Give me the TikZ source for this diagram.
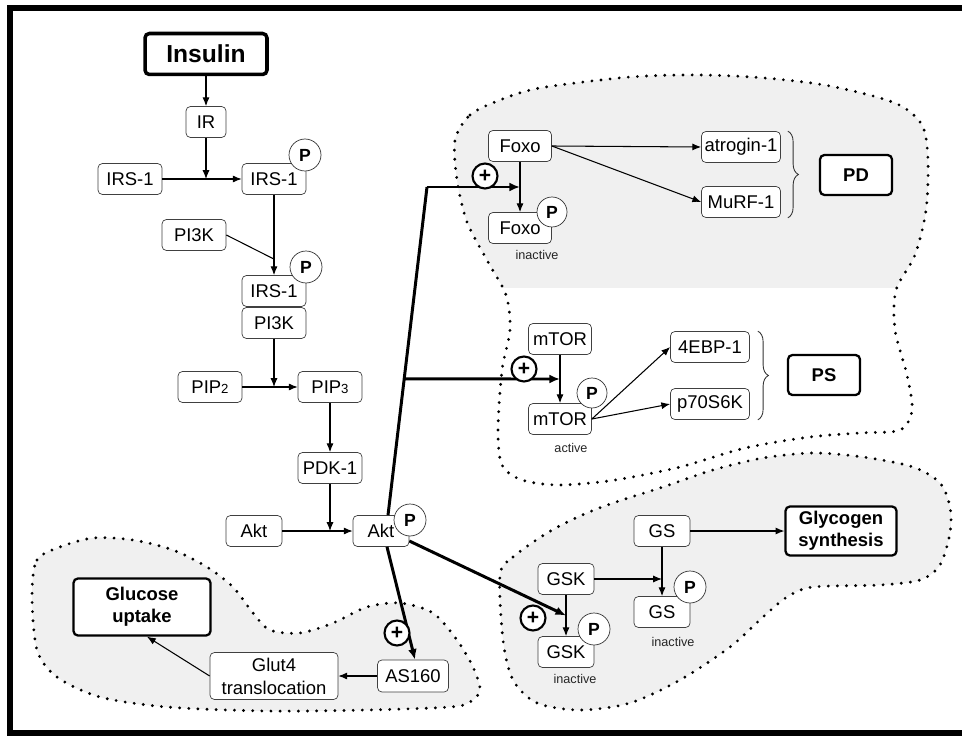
\documentclass[tikz,border=0pt]{standalone}
\usepackage{fontspec}
\setmainfont{Liberation Sans}
\usetikzlibrary{arrows.meta, decorations.pathreplacing, calc}
\tikzset{%
    box/.style={draw=black!75, rounded corners=2.5pt, fill=white, inner sep=0pt,
        minimum height=0.62cm, font=\fontsize{10.5}{12}\selectfont}
}

\begin{document}
\begin{tikzpicture}[x=0.02cm, y=-0.02cm,
        res/.style={box, draw=black, line width=1.3pt, align=center,
            font=\fontsize{10.5}{12.5}\selectfont\bfseries},
        pho/.style={circle, draw=black!80, fill=white, minimum size=0.64cm, inner sep=0pt,
            font=\fontsize{10}{12}\selectfont\bfseries},
        act/.style={circle, draw, line width=1.2pt, fill=white, minimum size=0.5cm, inner sep=0pt,
            font=\fontsize{12}{12}\selectfont\bfseries},
        lbl/.style={font=\fontsize{7.2}{8}\selectfont, text=black!85},
        edge/.style={line width=0.6pt, -{Latex[length=5pt,width=4pt]}},
        link/.style={line width=0.6pt},
        bus/.style={line width=1.7pt},
        bold/.style={line width=1.7pt, -{Latex[length=6pt,width=5pt]}},
        zone/.style={line width=1.8pt, dash pattern=on 0pt off 5.2pt, line cap=round},
        zonefill/.style={fill=black!6},
        brace/.style={decorate, decoration={brace, amplitude=6pt}, line width=0.5pt, draw=black!80}
        ]
        \useasboundingbox (0,0) rectangle (962,736);
        \clip (0,0) rectangle (962,736);
        % frame, open on the right
        \draw[line width=3.4pt] (1000,8) -- (10,8) -- (10,733) -- (1000,733);

        % shaded zones
        \begin{scope}
            \clip (0,0) rectangle (962,287);
            \fill[zonefill] plot[smooth cycle] coordinates {(455,140) (470,115) (500,100) (540,88)
                (630,77) (700,75) (765,78) (830,86) (895,103) (922,125) (928,160) (926,210)
                (915,255) (896,290) (895,330) (907,375) (912,410) (900,430) (860,433) (810,437)
                (745,448) (680,467) (615,480) (560,485) (522,480) (502,465) (498,430) (502,370)
                (510,330) (506,295) (488,262) (467,222) (457,180)};
        \end{scope}
        \draw[zone] plot[smooth cycle] coordinates {(455,140) (470,115) (500,100) (540,88)
            (630,77) (700,75) (765,78) (830,86) (895,103) (922,125) (928,160) (926,210)
            (915,255) (896,290) (895,330) (907,375) (912,410) (900,430) (860,433) (810,437)
            (745,448) (680,467) (615,480) (560,485) (522,480) (502,465) (498,430) (502,370)
            (510,330) (506,295) (488,262) (467,222) (457,180)};
        \draw[zone, zonefill] plot[smooth cycle] coordinates {(500,575) (513,557) (547,533)
            (580,516) (613,503) (663,487) (713,470) (763,458) (813,453) (863,457) (913,467)
            (940,483) (950,507) (950,533) (940,565) (920,580) (880,585) (813,587) (787,597)
            (763,617) (730,647) (680,680) (630,703) (580,710) (537,703) (513,680) (503,640)};
        \draw[zone, zonefill] plot[smooth cycle] coordinates {(32,595) (37,560) (60,547)
            (93,538) (133,540) (173,550) (207,567) (233,587) (253,613) (270,630) (300,633)
            (333,623) (367,607) (400,603) (433,613) (457,640) (473,667) (480,690) (470,702)
            (450,707) (367,710) (267,711) (167,707) (100,697) (57,677) (37,650)};

        % insulin cascade
        \node[res, line width=2pt, minimum width=2.44cm, minimum height=0.82cm,
            font=\fontsize{14}{16}\selectfont\bfseries] (ins) at (206,54) {Insulin};
        \node[box, minimum width=0.8cm] (ir) at (206,122) {IR};
        \node[box, minimum width=1.28cm] (irsa) at (130,179) {IRS-1};
        \node[box, minimum width=1.28cm] (irsb) at (274,179) {IRS-1};
        \node[box, minimum width=1.28cm] (pika) at (194,235) {PI3K};
        \node[box, minimum width=1.28cm] (irsc) at (274,291) {IRS-1};
        \node[box, minimum width=1.28cm] (pikb) at (274,323) {PI3K};
        \node[box, minimum width=1.28cm] (pipa) at (210,387) {PIP{\fontsize{7.5}{8}\selectfont 2}};
        \node[box, minimum width=1.28cm] (pipb) at (330,387) {PIP{\fontsize{7.5}{8}\selectfont 3}};
        \node[box, minimum width=1.28cm] (pdk) at (330,468) {PDK-1};
        \node[box, minimum width=1.12cm] (akta) at (254,531) {Akt};
        \node[box, minimum width=1.12cm] (aktp) at (381,531) {Akt};

        % glucose uptake
        \node[res, minimum width=2.74cm, minimum height=1.14cm] (gluc) at (142,607) {Glucose\\uptake};
        \node[box, minimum width=2.56cm, minimum height=0.94cm, align=center,
            font=\fontsize{10.5}{13}\selectfont] (glut) at (274,676) {Glut4\\translocation};
        \node[box, minimum width=1.42cm, minimum height=0.64cm] (as160) at (413,676) {AS160};

        % protein degradation
        \node[box, minimum width=1.26cm] (foxoa) at (520,146) {Foxo};
        \node[box, minimum width=1.26cm] (foxob) at (520,228) {Foxo};
        \node[box, minimum width=1.58cm] (atro) at (741,147) {atrogin-1};
        \node[box, minimum width=1.58cm] (murf) at (741,202) {MuRF-1};
        \node[res, minimum width=1.44cm, minimum height=0.8cm] (pd) at (856,175) {PD};

        % protein synthesis
        \node[box, minimum width=1.26cm] (mtora) at (560,339) {mTOR};
        \node[box, minimum width=1.26cm] (mtorb) at (560,419) {mTOR};
        \node[box, minimum width=1.58cm] (ebp) at (710,347) {4EBP-1};
        \node[box, minimum width=1.58cm] (p70) at (710,404) {p70S6K};
        \node[res, minimum width=1.44cm, minimum height=0.8cm] (ps) at (824,375) {PS};

        % glycogen synthesis
        \node[box, minimum width=1.12cm] (gsa) at (662,531) {GS};
        \node[box, minimum width=1.12cm] (gsb) at (662,612) {GS};
        \node[box, minimum width=1.12cm] (gska) at (566,579) {GSK};
        \node[box, minimum width=1.12cm] (gskb) at (566,652) {GSK};
        \node[res, minimum width=2.22cm, minimum height=0.98cm] (glyc) at (841,531) {Glycogen\\synthesis};

        % phosphates
        \node[pho] (p1) at (305,155) {P};
        \node[pho] (p2) at (306,267) {P};
        \node[pho] (p3) at (410,520) {P};
        \node[pho, minimum size=0.6cm] (p4) at (552,212) {P};
        \node[pho, minimum size=0.6cm] (p5) at (592,393) {P};
        \node[pho] (p6) at (690,587) {P};
        \node[pho] (p7) at (594,629) {P};

        \node[lbl] (lfoxo) at (537,255) {inactive};
        \node[lbl] (lmtor) at (571,448) {active};
        \node[lbl] (lgs) at (673,642) {inactive};
        \node[lbl] (lgsk) at (575,679) {inactive};

        % cascade edges
        \draw[edge] (ins) -- (ir);
        \draw[edge] (irsa) -- (irsb);
        \draw[edge] (ir) -- (ir |- irsa);
        \draw[edge] (irsb) -- (irsc);
        \draw[link] (pika.east) -- ($(irsb.south)!0.8!(irsc.north)$);
        \draw[edge] (pipa) -- (pipb);
        \draw[edge] (pikb) -- (pikb |- pipa);
        \draw[edge] (pipb) -- (pdk);
        \draw[edge] (akta) -- (aktp);
        \draw[edge] (pdk) -- (pdk |- akta);

        % targets
        \draw[edge] (foxoa) -- (foxob);
        \draw[edge] (foxoa.east) -- (atro.west);
        \draw[edge] (foxoa.east) -- (murf.west);
        \draw[brace] ([xshift=0.14cm]atro.north east) -- ([xshift=0.14cm]murf.south east);
        \draw[edge] (mtora) -- (mtorb);
        \draw[edge] (mtorb.east) -- (ebp.west);
        \draw[edge] (mtorb.east) -- (p70.west);
        \draw[brace] ([xshift=0.16cm]ebp.north east) -- ([xshift=0.16cm]p70.south east);
        \draw[edge] (gsa) -- (gsb);
        \draw[edge] (gsa) -- (glyc);
        \draw[edge] (gska) -- (gskb);
        \draw[edge] (gska.east) -- (gska.east -| gsa.south);
        \draw[edge] (as160) -- (glut);
        \draw[edge] (glut.west) -- ([xshift=0.1cm]gluc.south);

        % Akt outputs
        \coordinate (kfoxo) at (427,187);
        \coordinate (kmtor) at ($([xshift=0.14cm]aktp.north)!0.415!(kfoxo)$);
        \draw[bus] ([xshift=0.14cm]aktp.north) -- (kfoxo);
        \draw[bold] (kfoxo) -- ($(foxoa.south)!0.5!(foxob.north)$);
        \draw[bold] (kmtor) -- ($(mtora.south)!0.5!(mtorb.north)$);
        \draw[bold] ([xshift=0.12cm]aktp.south) -- ([xshift=0.04cm]as160.north);
        \draw[bold] ([yshift=-0.2cm]aktp.east) -- ($(gska.south)!0.5!(gskb.north)$);

        \node[act] (q1) at (485,176) {+};
        \node[act] (q2) at (524,369) {+};
        \node[act] (q3) at (533,618) {+};
        \node[act] (q4) at (397,633) {+};
    \end{tikzpicture}
\end{document}
